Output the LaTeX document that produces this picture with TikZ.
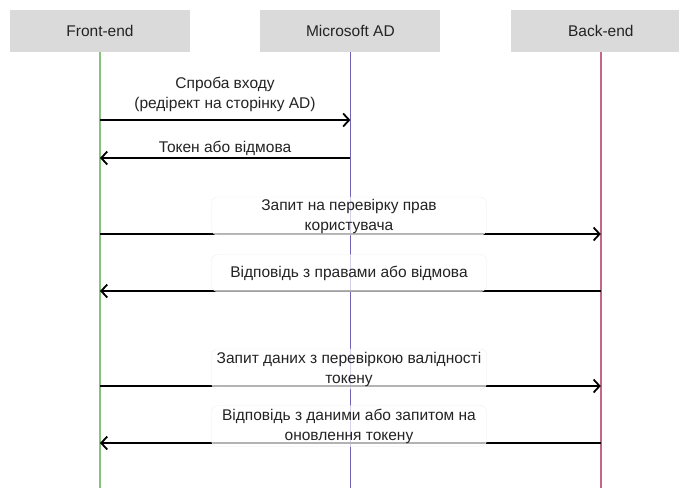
\documentclass[tikz,border=0pt]{standalone}
\usepackage{fontspec}
\setmainfont{Liberation Sans}
\usetikzlibrary{arrows.meta,positioning}
\definecolor{headgray}{RGB}{218,218,218}
\definecolor{txtgray}{RGB}{35,35,35}
\definecolor{linegreen}{RGB}{135,195,125}
\definecolor{linepurple}{RGB}{110,100,185}
\definecolor{linered}{RGB}{195,105,135}
\definecolor{boxedge}{RGB}{238,238,238}

\begin{document}
\begin{tikzpicture}[x=1pt,y=-1pt,font=\fontsize{15.5}{20}\selectfont,text=txtgray,
  head/.style={fill=headgray,minimum width=180pt,minimum height=42pt,inner sep=0pt},
  life/.style={line width=1.4pt},
  msg/.style={line width=1.8pt,-{Straight Barb[length=6pt,width=13pt,line width=1.8pt]}},
  lbl/.style={align=center,inner sep=0pt},
  lblbox/.style={draw=boxedge,fill=white,fill opacity=0.7,text opacity=1,rounded corners=6pt,
    minimum width=275pt,align=center,inner sep=0pt}]
\clip (0,0) rectangle (679,488);
% participants
\node[head] (fe) at (100,31) {Front-end};
\node[head,right=70pt of fe] (ad) {Microsoft AD};
\node[head,right=70pt of ad] (be) {Back-end};
% lifelines
\coordinate (bot) at (0,488);
\draw[life,linegreen] (fe.south) -- (fe |- bot);
\draw[life,linepurple] (ad.south) -- (ad |- bot);
\draw[life,linered] (be.south) -- (be |- bot);
% message rows
\coordinate (m1) at (0,120);
\coordinate (m2) at (0,158);
\coordinate (m3) at (0,234);
\coordinate (m4) at (0,291);
\coordinate (m5) at (0,386);
\coordinate (m6) at (0,443);
\draw[msg] (fe |- m1) -- (ad |- m1);
\draw[msg] (ad |- m2) -- (fe |- m2);
\draw[msg] (fe |- m3) -- (be |- m3);
\draw[msg] (be |- m4) -- (fe |- m4);
\draw[msg] (fe |- m5) -- (be |- m5);
\draw[msg] (be |- m6) -- (fe |- m6);
% labels
\node[lbl] (t1) at (225,94) {Спроба входу\\(редірект на сторінку AD)};
\node[lbl] (t2) at (225,148) {Токен або відмова};
\node[lblbox,minimum height=38pt] (t3) at (349,216) {Запит на перевірку прав\\користувача};
\node[lblbox,minimum height=37pt] (t4) at (349,273) {Відповідь з правами або відмова};
\node[lblbox,minimum height=40pt] (t5) at (349,369) {Запит даних з перевіркою валідності\\токену};
\node[lblbox,minimum height=41pt] (t6) at (349,426) {Відповідь з даними або запитом на\\оновлення токену};
\end{tikzpicture}
\end{document}
